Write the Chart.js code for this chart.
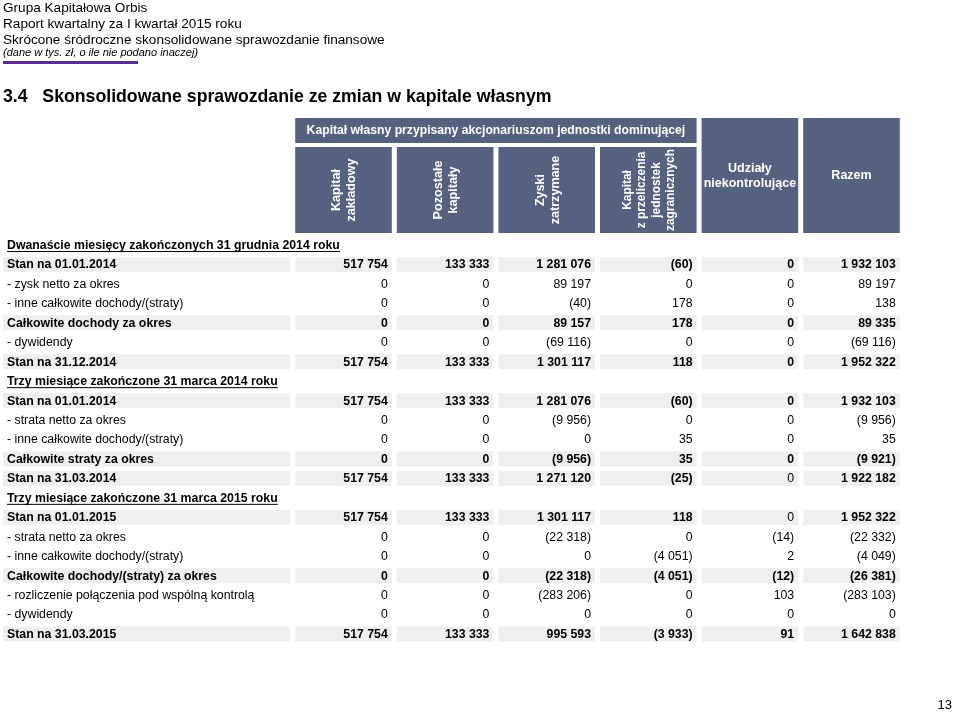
<!DOCTYPE html>
<html lang="pl">
<head>
<meta charset="utf-8">
<title>3.4 Skonsolidowane sprawozdanie ze zmian w kapitale własnym</title>
<script src="https://cdn.jsdelivr.net/npm/chart.js@4/dist/chart.umd.min.js"></script>
<style>
  body { margin: 0; background: #fff; font-family: "Liberation Sans", Arial, sans-serif; color: #000; }
  #strona { position: relative; width: 960px; height: 713px; overflow: hidden; }
  #tabela { position: absolute; left: 0; top: 0; }
  .tekst { position: absolute; left: 3px; white-space: nowrap; }
  .naglowek { font-size: 13.6px; line-height: 16px; }
  .uwaga { font-size: 11px; font-style: italic; line-height: 14px; }
  .pasek { position: absolute; left: 3px; top: 61px; width: 135px; height: 3px; background: #5b2d8e; }
  .tytul { font-size: 17.7px; font-weight: bold; line-height: 22px; }
  .strona-nr { position: absolute; right: 8px; top: 697px; font-size: 13px; }
</style>
</head>
<body>
<div id="strona">
  <canvas id="tabela" width="960" height="713"></canvas>
  <div class="tekst naglowek" style="top:0px">Grupa Kapitałowa Orbis</div>
  <div class="tekst naglowek" style="top:16px">Raport kwartalny za I kwartał 2015 roku</div>
  <div class="tekst naglowek" style="top:32px">Skrócone śródroczne skonsolidowane sprawozdanie finansowe</div>
  <div class="tekst uwaga" style="top:45px">(dane w tys. zł, o ile nie podano inaczej)</div>
  <div class="pasek"></div>
  <div class="tekst tytul" style="top:85px">3.4&nbsp;&nbsp;&nbsp;Skonsolidowane sprawozdanie ze zmian w kapitale własnym</div>
  <div class="strona-nr">13</div>
</div>
<script>
// kolumny tabeli
const kolumny = ['Kapitał zakładowy', 'Pozostałe kapitały', 'Zyski zatrzymane',
  'Kapitał z przeliczenia jednostek zagranicznych', 'Udziały niekontrolujące', 'Razem'];
const naglowkiKolumn = [['Kapitał', 'zakładowy'], ['Pozostałe', 'kapitały'], ['Zyski', 'zatrzymane'],
  ['Kapitał', 'z przeliczenia', 'jednostek', 'zagranicznych'], ['Udziały', 'niekontrolujące'], ['Razem']];
const grupaKolumn = 'Kapitał własny przypisany akcjonariuszom jednostki dominującej';

// wiersze: s = sekcja, b = suma (pogrubiona), n = zwykły
const wiersze = [
  'Dwanaście miesięcy zakończonych 31 grudnia 2014 roku',
  'Stan na 01.01.2014',
  '- zysk netto za okres',
  '- inne całkowite dochody/(straty)',
  'Całkowite dochody za okres',
  '- dywidendy',
  'Stan na 31.12.2014',
  'Trzy miesiące zakończone 31 marca 2014 roku',
  'Stan na 01.01.2014',
  '- strata netto za okres',
  '- inne całkowite dochody/(straty)',
  'Całkowite straty za okres',
  'Stan na 31.03.2014',
  'Trzy miesiące zakończone 31 marca 2015 roku',
  'Stan na 01.01.2015',
  '- strata netto za okres',
  '- inne całkowite dochody/(straty)',
  'Całkowite dochody/(straty) za okres',
  '- rozliczenie połączenia pod wspólną kontrolą',
  '- dywidendy',
  'Stan na 31.03.2015'
];
const typWiersza = ['s', 'b', 'n', 'n', 'b', 'n', 'b', 's', 'b', 'n', 'n', 'b', 'b', 's', 'b', 'n', 'n', 'b', 'n', 'n', 'b'];

// wartości (tys. zł), null w wierszach sekcji
const kapitalZakladowy = [null, 517754, 0, 0, 0, 0, 517754, null, 517754, 0, 0, 0, 517754, null, 517754, 0, 0, 0, 0, 0, 517754];
const pozostaleKapitaly = [null, 133333, 0, 0, 0, 0, 133333, null, 133333, 0, 0, 0, 133333, null, 133333, 0, 0, 0, 0, 0, 133333];
const zyskiZatrzymane = [null, 1281076, 89197, -40, 89157, -69116, 1301117, null, 1281076, -9956, 0, -9956, 1271120, null, 1301117, -22318, 0, -22318, -283206, 0, 995593];
const kapitalPrzeliczenia = [null, -60, 0, 178, 178, 0, 118, null, -60, 0, 35, 35, -25, null, 118, 0, -4051, -4051, 0, 0, -3933];
const udzialyNiekontrolujace = [null, 0, 0, 0, 0, 0, 0, null, 0, 0, 0, 0, 0, null, 0, -14, 2, -12, 103, 0, 91];
const razem = [null, 1932103, 89197, 138, 89335, -69116, 1952322, null, 1932103, -9956, 35, -9921, 1922182, null, 1952322, -22332, -4049, -26381, -283103, 0, 1642838];

// komórki w wierszach sum, które nie są pogrubione [wiersz, kolumna]
const komorkiZwykle = [[12, 4], [14, 4]];

const serie = [kapitalZakladowy, pozostaleKapitaly, zyskiZatrzymane, kapitalPrzeliczenia, udzialyNiekontrolujace, razem];

const KOLOR_NAGL = '#56617f';
const KOLOR_TLA = '#efefef';
const FONT = '"Liberation Sans", Arial, sans-serif';
const ROZMIAR = '12.3px ';

function formatuj(v) {
  const s = Math.abs(v).toString().replace(/\B(?=(\d{3})+(?!\d))/g, ' ');
  return v < 0 ? '(' + s + ')' : s;
}

const rysujTabele = {
  id: 'rysujTabele',
  afterDatasetsDraw(chart) {
    const { ctx, scales: { x, y } } = chart;
    const szer = x.getPixelForValue(1) - x.getPixelForValue(0);
    const pol = szer / 2 - 2.5;
    const pas = 15;

    ctx.save();
    // nagłówki
    ctx.fillStyle = KOLOR_NAGL;
    const l0 = x.getPixelForValue(0) - pol, p3 = x.getPixelForValue(3) + pol;
    ctx.fillRect(l0, 118, p3 - l0, 25);
    kolumny.forEach((k, i) => {
      const cx = x.getPixelForValue(i);
      const top = i < 4 ? 147 : 118;
      ctx.fillRect(cx - pol, top, pol * 2, 233 - top);
    });
    ctx.fillStyle = '#fff';
    ctx.textAlign = 'center';
    ctx.textBaseline = 'middle';
    ctx.font = 'bold 12.2px ' + FONT;
    ctx.fillText(grupaKolumn, (l0 + p3) / 2, 131);
    naglowkiKolumn.forEach((linie, i) => {
      const cx = x.getPixelForValue(i);
      if (i < 4) {
        const lh = linie.length > 2 ? 14.5 : 15;
        ctx.font = 'bold ' + (linie.length > 2 ? '11.9px ' : '12.6px ') + FONT;
        ctx.save();
        ctx.translate(cx + 1, 190);
        ctx.rotate(-Math.PI / 2);
        linie.forEach((t, j) => ctx.fillText(t, 0, (j - (linie.length - 1) / 2) * lh));
        ctx.restore();
      } else {
        ctx.font = 'bold 12.5px ' + FONT;
        linie.forEach((t, j) => ctx.fillText(t, cx, 176 + (j - (linie.length - 1) / 2) * 15));
      }
    });

    // wiersze
    wiersze.forEach((w, r) => {
      const cy = y.getPixelForValue(r);
      const typ = typWiersza[r];
      if (typ === 'b') {
        ctx.fillStyle = KOLOR_TLA;
        ctx.fillRect(3, cy - pas / 2, 287, pas);
        kolumny.forEach((k, i) => {
          const cx = x.getPixelForValue(i);
          ctx.fillRect(cx - pol, cy - pas / 2, pol * 2, pas);
        });
      }
      ctx.fillStyle = '#000';
      ctx.textAlign = 'left';
      ctx.font = (typ === 'n' ? '' : 'bold ') + ROZMIAR + FONT;
      ctx.fillText(w, 7, cy + 0.5);
      if (typ === 's') {
        const tw = ctx.measureText(w).width;
        ctx.fillRect(7, cy + 6, tw, 1);
      }
    });

    // wartości w miejscach punktów zbiorów danych
    ctx.textAlign = 'right';
    ctx.fillStyle = '#000';
    chart.data.datasets.forEach((ds, d) => {
      const meta = chart.getDatasetMeta(d);
      meta.data.forEach((el, r) => {
        const v = ds.data[r].v;
        if (v === null) return;
        const zwykla = komorkiZwykle.some(([a, b]) => a === r && b === d);
        ctx.font = (typWiersza[r] === 'b' && !zwykla ? 'bold ' : '') + ROZMIAR + FONT;
        ctx.fillText(formatuj(v), el.x + pol - 4, el.y + 0.5);
      });
    });
    ctx.restore();
  }
};

new Chart(document.getElementById('tabela'), {
  type: 'scatter',
  data: {
    datasets: serie.map((s, i) => ({
      label: kolumny[i],
      data: s.map((v, r) => ({ x: kolumny[i], y: wiersze[r], v: v })),
      pointRadius: 0,
      pointHoverRadius: 0
    }))
  },
  options: {
    responsive: false,
    animation: false,
    events: [],
    layout: { padding: { left: 292.7, right: 57.7, top: 235.3, bottom: 69.3 } },
    scales: {
      x: { type: 'category', labels: kolumny, offset: true, display: false },
      y: { type: 'category', labels: wiersze, offset: true, display: false }
    },
    plugins: { legend: { display: false }, tooltip: { enabled: false } }
  },
  plugins: [rysujTabele]
});
</script>
</body>
</html>
